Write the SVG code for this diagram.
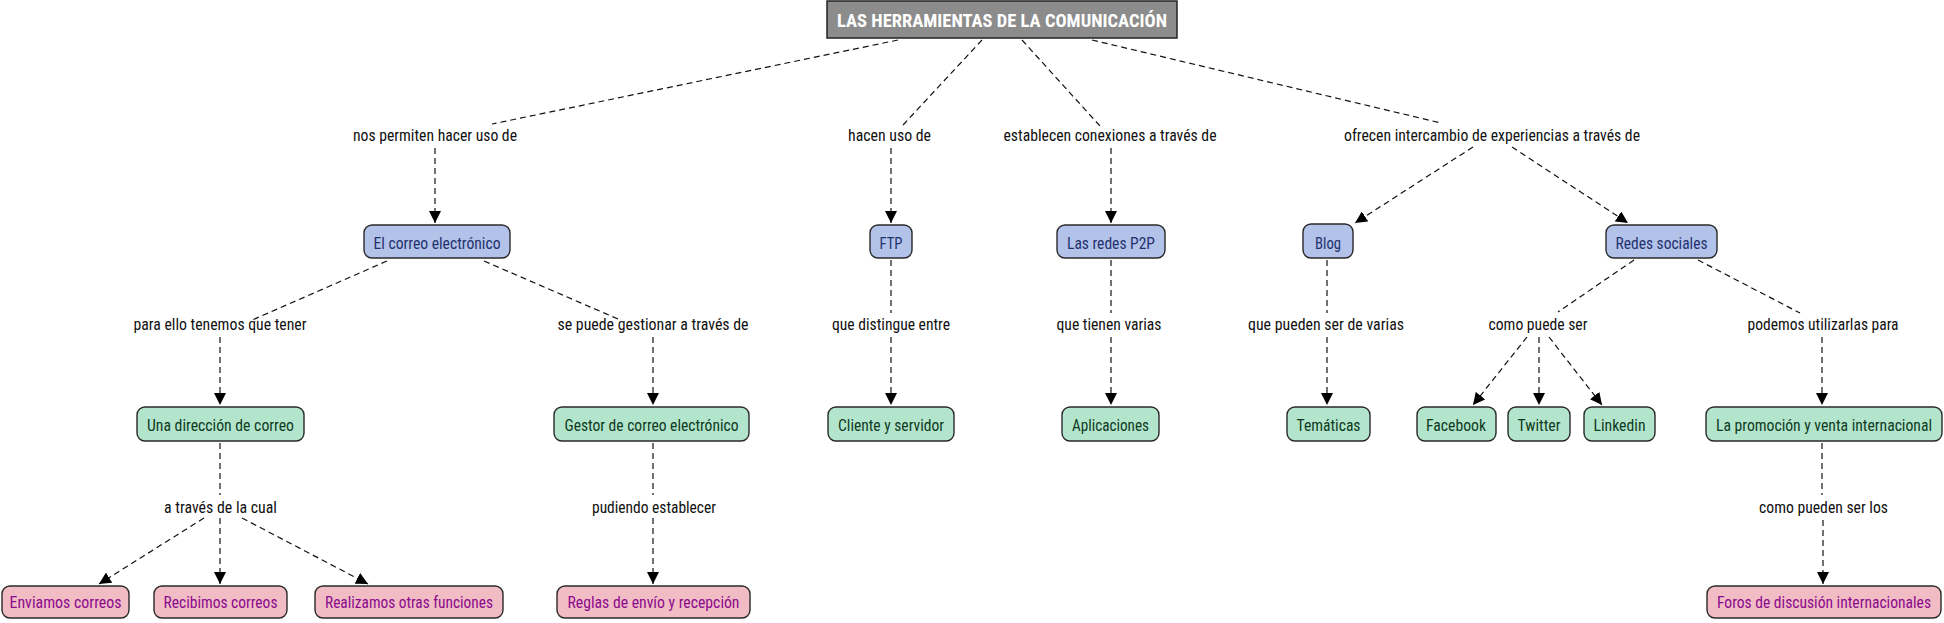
<svg xmlns="http://www.w3.org/2000/svg" width="1944" height="623" viewBox="0 0 1944 623">
<style>
text{font-family:'Liberation Sans Narrow','Arial Narrow','Roboto Condensed','DejaVu Sans Condensed',sans-serif;font-size:17px;text-anchor:middle}
.lbl{fill:#111}
.root rect{fill:#8c8c8c;stroke:#222;stroke-width:1.5}
.root text{fill:#fff;font-weight:bold;font-size:18.5px}
.b rect{fill:#b3c2e9;stroke:#2a2a2a;stroke-width:1.4}
.b text{fill:#1f326e}
.g rect{fill:#b3e5cc;stroke:#2a2a2a;stroke-width:1.4}
.g text{fill:#0e3b1f}
.p rect{fill:#f1bcc4;stroke:#2a2a2a;stroke-width:1.4}
.p text{fill:#8c0a8c}
text.s{font-size:16px}
#edges line{stroke:#111;stroke-width:1.2;stroke-dasharray:6,4;fill:none}
#edges line.a{marker-end:url(#arr)}
</style>
<defs>
<marker id="arr" markerUnits="userSpaceOnUse" markerWidth="13" markerHeight="12" refX="12" refY="6" orient="auto">
<path d="M0,0 L12,6 L0,12 z" fill="#000"/>
</marker>
</defs>
<rect width="1944" height="623" fill="#fff"/>
<g id="edges">
<line x1="898" y1="40" x2="492" y2="124"/>
<line x1="982" y1="40" x2="903" y2="125"/>
<line x1="1022" y1="40" x2="1100" y2="126"/>
<line x1="1092" y1="40" x2="1441" y2="123"/>
<line class="a" x1="435" y1="148" x2="435" y2="223"/>
<line class="a" x1="891" y1="148" x2="891" y2="223"/>
<line class="a" x1="1111" y1="148" x2="1111" y2="223"/>
<line class="a" x1="1473" y1="147" x2="1355" y2="223"/>
<line class="a" x1="1512" y1="147" x2="1628" y2="223"/>
<line x1="387" y1="261" x2="250" y2="321"/>
<line x1="484" y1="261" x2="618" y2="319"/>
<line x1="891" y1="260" x2="891" y2="313"/>
<line x1="1111" y1="260" x2="1111" y2="313"/>
<line x1="1327" y1="260" x2="1327" y2="313"/>
<line x1="1634" y1="260" x2="1558" y2="312"/>
<line x1="1698" y1="260" x2="1800" y2="313"/>
<line class="a" x1="220" y1="337" x2="220" y2="405"/>
<line class="a" x1="653" y1="337" x2="653" y2="405"/>
<line class="a" x1="891" y1="337" x2="891" y2="405"/>
<line class="a" x1="1111" y1="337" x2="1111" y2="405"/>
<line class="a" x1="1327" y1="337" x2="1327" y2="405"/>
<line class="a" x1="1527" y1="337" x2="1473" y2="405"/>
<line class="a" x1="1539" y1="337" x2="1539" y2="405"/>
<line class="a" x1="1549" y1="337" x2="1602" y2="405"/>
<line class="a" x1="1822" y1="337" x2="1822" y2="405"/>
<line x1="220" y1="443" x2="220" y2="495"/>
<line x1="653" y1="443" x2="653" y2="495"/>
<line x1="1822" y1="443" x2="1822" y2="495"/>
<line class="a" x1="204" y1="518" x2="99" y2="584"/>
<line class="a" x1="220" y1="518" x2="220" y2="584"/>
<line class="a" x1="242" y1="518" x2="368" y2="584"/>
<line class="a" x1="653" y1="518" x2="653" y2="584"/>
<line class="a" x1="1823" y1="520" x2="1823" y2="584"/>
</g>
<g id="labels">
<text class="lbl" x="435" y="141" textLength="164" lengthAdjust="spacingAndGlyphs">nos permiten hacer uso de</text>
<text class="lbl" x="889.5" y="141" textLength="83" lengthAdjust="spacingAndGlyphs">hacen uso de</text>
<text class="lbl" x="1110" y="141" textLength="213" lengthAdjust="spacingAndGlyphs">establecen conexiones a través de</text>
<text class="lbl" x="1492" y="141" textLength="296" lengthAdjust="spacingAndGlyphs">ofrecen intercambio de experiencias a través de</text>
<text class="lbl" x="220" y="330" textLength="173" lengthAdjust="spacingAndGlyphs">para ello tenemos que tener</text>
<text class="lbl" x="653" y="330" textLength="191" lengthAdjust="spacingAndGlyphs">se puede gestionar a través de</text>
<text class="lbl" x="891" y="330" textLength="118" lengthAdjust="spacingAndGlyphs">que distingue entre</text>
<text class="lbl" x="1109" y="330" textLength="105" lengthAdjust="spacingAndGlyphs">que tienen varias</text>
<text class="lbl" x="1326" y="330" textLength="156" lengthAdjust="spacingAndGlyphs">que pueden ser de varias</text>
<text class="lbl" x="1538" y="330" textLength="99" lengthAdjust="spacingAndGlyphs">como puede ser</text>
<text class="lbl" x="1823" y="330" textLength="151" lengthAdjust="spacingAndGlyphs">podemos utilizarlas para</text>
<text class="lbl" x="220.5" y="513" textLength="113" lengthAdjust="spacingAndGlyphs">a través de la cual</text>
<text class="lbl" x="654" y="513" textLength="124" lengthAdjust="spacingAndGlyphs">pudiendo establecer</text>
<text class="lbl" x="1823.5" y="513" textLength="129" lengthAdjust="spacingAndGlyphs">como pueden ser los</text>
</g>
<g id="n_root" class="root"><rect x="827" y="1" width="350" height="37"/><text x="1002" y="27" textLength="330" lengthAdjust="spacingAndGlyphs">LAS HERRAMIENTAS DE LA COMUNICACIÓN</text></g>
<g id="n_correo" class="b"><rect x="364" y="225" width="146" height="33" rx="8"/><text x="437" y="248.5" textLength="127" lengthAdjust="spacingAndGlyphs">El correo electrónico</text></g>
<g id="n_ftp" class="b"><rect x="870" y="225" width="42" height="33" rx="8"/><text x="891" y="248.5" textLength="23" lengthAdjust="spacingAndGlyphs">FTP</text></g>
<g id="n_p2p" class="b"><rect x="1057" y="225" width="108" height="33" rx="8"/><text x="1111" y="248.5" textLength="88" lengthAdjust="spacingAndGlyphs">Las redes P2P</text></g>
<g id="n_blog" class="b"><rect x="1303" y="224" width="50" height="34" rx="8"/><text x="1328" y="248.5" textLength="26" lengthAdjust="spacingAndGlyphs">Blog</text></g>
<g id="n_redes" class="b"><rect x="1606" y="225" width="111" height="33" rx="8"/><text x="1661.5" y="248.5" textLength="92" lengthAdjust="spacingAndGlyphs">Redes sociales</text></g>
<g id="n_direccion" class="g"><rect x="137" y="407" width="167" height="34" rx="8"/><text x="220.5" y="431" textLength="147" lengthAdjust="spacingAndGlyphs">Una dirección de correo</text></g>
<g id="n_gestor" class="g"><rect x="554" y="407" width="195" height="34" rx="8"/><text x="651.5" y="431" textLength="174" lengthAdjust="spacingAndGlyphs">Gestor de correo electrónico</text></g>
<g id="n_cliente" class="g"><rect x="828" y="407" width="126" height="34" rx="8"/><text x="891" y="431" textLength="106" lengthAdjust="spacingAndGlyphs">Cliente y servidor</text></g>
<g id="n_aplic" class="g"><rect x="1062" y="407" width="97" height="34" rx="8"/><text x="1110.5" y="431" textLength="77" lengthAdjust="spacingAndGlyphs">Aplicaciones</text></g>
<g id="n_tematicas" class="g"><rect x="1287" y="407" width="83" height="34" rx="8"/><text x="1328.5" y="431" textLength="64" lengthAdjust="spacingAndGlyphs">Temáticas</text></g>
<g id="n_facebook" class="g"><rect x="1417" y="407" width="79" height="34" rx="8"/><text x="1456" y="431" textLength="60" lengthAdjust="spacingAndGlyphs">Facebook</text></g>
<g id="n_twitter" class="g"><rect x="1508" y="407" width="62" height="34" rx="8"/><text x="1539" y="431" textLength="43" lengthAdjust="spacingAndGlyphs">Twitter</text></g>
<g id="n_linkedin" class="g"><rect x="1584" y="407" width="71" height="34" rx="8"/><text x="1619.5" y="431" textLength="52" lengthAdjust="spacingAndGlyphs">Linkedin</text></g>
<g id="n_promocion" class="g"><rect x="1706" y="407" width="236" height="34" rx="8"/><text class="s" x="1824" y="431" textLength="216" lengthAdjust="spacingAndGlyphs">La promoción y venta internacional</text></g>
<g id="n_enviamos" class="p"><rect x="2" y="586" width="127" height="32" rx="8"/><text x="65.5" y="608" textLength="112" lengthAdjust="spacingAndGlyphs">Enviamos correos</text></g>
<g id="n_recibimos" class="p"><rect x="154" y="586" width="133" height="32" rx="8"/><text x="220.5" y="608" textLength="114" lengthAdjust="spacingAndGlyphs">Recibimos correos</text></g>
<g id="n_realizamos" class="p"><rect x="315" y="586" width="188" height="32" rx="8"/><text x="409" y="608" textLength="168" lengthAdjust="spacingAndGlyphs">Realizamos otras funciones</text></g>
<g id="n_reglas" class="p"><rect x="557" y="586" width="193" height="32" rx="8"/><text x="653.5" y="608" textLength="172" lengthAdjust="spacingAndGlyphs">Reglas de envío y recepción</text></g>
<g id="n_foros" class="p"><rect x="1707" y="586" width="234" height="32" rx="8"/><text class="s" x="1824" y="608" textLength="214" lengthAdjust="spacingAndGlyphs">Foros de discusión internacionales</text></g>
</svg>
